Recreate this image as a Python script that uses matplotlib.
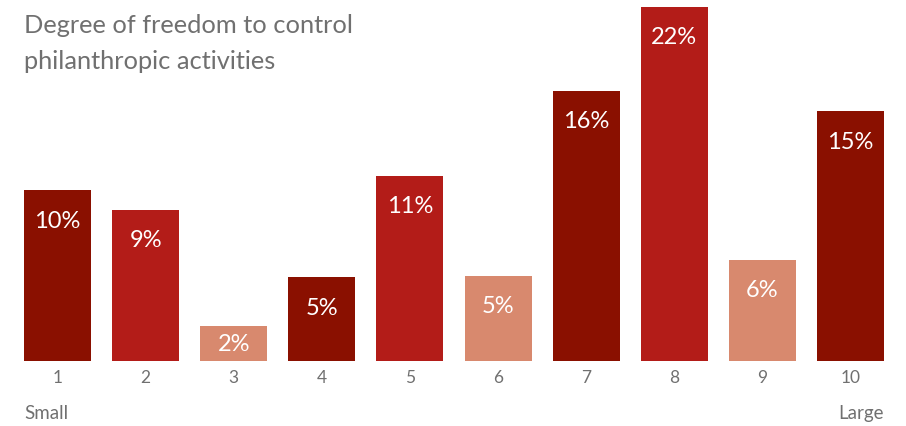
import matplotlib
matplotlib.use("Agg")
import matplotlib.pyplot as plt

categories = ["1", "2", "3", "4", "5", "6", "7", "8", "9", "10"]
values = [10.6, 9.4, 2.2, 5.2, 11.5, 5.3, 16.8, 22.0, 6.3, 15.5]
value_labels = ["10%", "9%", "2%", "5%", "11%", "5%", "16%", "22%", "6%", "15%"]
title_lines = ["Degree of freedom to control", "philanthropic activities"]

dark = "#8a1000"
red = "#b31c18"
salmon = "#d8896e"
colors = [dark, red, salmon] * 3 + [dark]
grey = "#707070"

plt.rcParams["font.family"] = ["Lato", "DejaVu Sans"]

W, H = 906, 427
PX = 16.1  # pixels per percent
fig = plt.figure(figsize=(W / 100, H / 100), dpi=100)
ax = fig.add_axes([24 / W, (H - 362) / H, 860 / W, 362 / H])

x = list(range(1, len(values) + 1))
ax.bar(x, values, width=0.76, color=colors)
ax.set_xlim(0.62, 10.38)
ax.set_ylim(0, 362 / PX)

for xi, v, lab in zip(x, values, value_labels):
    off = min(30 / PX, v / 2)
    ax.text(xi, v - off, lab, ha="center", va="center", color="white", fontsize=17)

ax.set_xticks(x)
ax.set_xticklabels(categories, color=grey, fontsize=12.5)
ax.tick_params(axis="x", length=0, pad=6)
ax.set_yticks([])
for s in ax.spines.values():
    s.set_visible(False)

for i, line in enumerate(title_lines):
    fig.text(24 / W, 1 - (33 + 36 * i) / H, line, ha="left", va="baseline",
             color=grey, fontsize=18.3)
fig.text(24 / W, 1 - 414 / H, "Small", ha="left", va="center", color=grey, fontsize=13.5)
fig.text(884 / W, 1 - 414 / H, "Large", ha="right", va="center", color=grey, fontsize=13.5)

fig.savefig("out.png", dpi=100)
